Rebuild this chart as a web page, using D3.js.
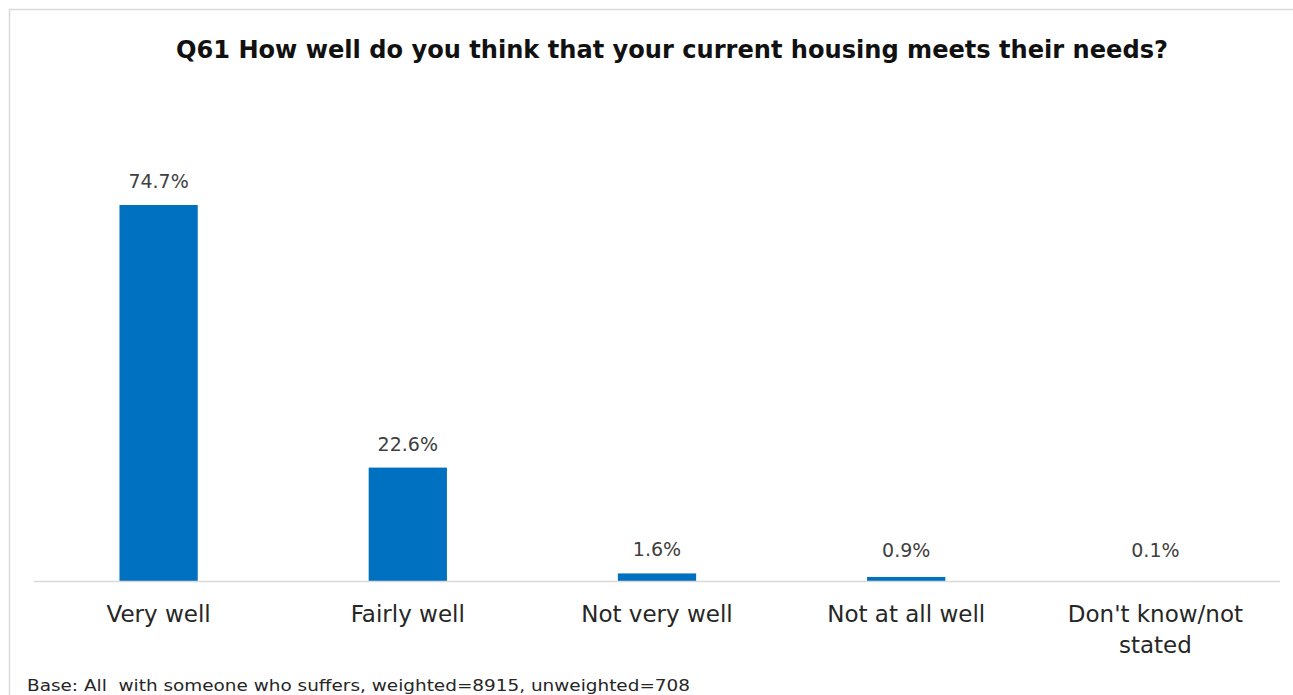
<!DOCTYPE html>
<html>
<head>
<meta charset="utf-8">
<script src="https://cdn.jsdelivr.net/npm/d3@7"></script>
<style>
  html, body { margin: 0; padding: 0; background: #ffffff; }
  svg { display: block; }
  text { white-space: pre; }
</style>
</head>
<body>
<svg id="chart" width="1293" height="695"></svg>
<script>
const categories = ["Very well", "Fairly well", "Not very well", "Not at all well", "Don't know/not stated"];
const categoryLines = [["Very well"], ["Fairly well"], ["Not very well"], ["Not at all well"], ["Don't know/not", "stated"]];
const values = [74.7, 22.6, 1.6, 0.9, 0.1];
const valueLabels = ["74.7%", "22.6%", "1.6%", "0.9%", "0.1%"];
const titleText = "Q61 How well do you think that your current housing meets their needs?";
const footerText = "Base: All  with someone who suffers, weighted=8915, unweighted=708";

const svg = d3.select("#chart");
const W = 1293, H = 695;
const font = "'DejaVu Sans', sans-serif";

// frame
svg.append("line").attr("x1", 9).attr("x2", W).attr("y1", 9.5).attr("y2", 9.5)
  .attr("stroke", "#d9d9d9").attr("stroke-width", 1.5);
svg.append("line").attr("x1", 9.5).attr("x2", 9.5).attr("y1", 9).attr("y2", H)
  .attr("stroke", "#d9d9d9").attr("stroke-width", 1.5);

// title
svg.append("text").attr("x", 672).attr("y", 58).attr("text-anchor", "middle")
  .attr("font-family", font).attr("font-weight", "bold").attr("font-size", 24)
  .attr("fill", "#111").attr("textLength", 992).attr("lengthAdjust", "spacingAndGlyphs")
  .text(titleText);

const baseline = 581.5;
const x = d3.scaleBand().domain(categories).range([34, 1280]).paddingInner(0.686).paddingOuter(0.343);
const y = d3.scaleLinear().domain([0, 74.7]).range([baseline, 205]);

svg.append("g").selectAll("rect").data(values).join("rect")
  .attr("x", (d, i) => x(categories[i]))
  .attr("width", x.bandwidth())
  .attr("y", d => y(d))
  .attr("height", d => baseline - y(d))
  .attr("fill", "#0070c0");

// axis baseline
const axis = d3.axisBottom(x).tickSize(0).tickFormat("");
const ax = svg.append("g").attr("transform", `translate(0,${baseline})`).call(axis);
ax.select(".domain").attr("stroke", "#d9d9d9").attr("stroke-width", 1.5)
  .attr("d", "M34,0H1280");

// value labels
svg.append("g").selectAll("text").data(values).join("text")
  .attr("x", (d, i) => x(categories[i]) + x.bandwidth() / 2)
  .attr("y", d => Math.min(y(d), baseline - 8) - 17)
  .attr("text-anchor", "middle")
  .attr("font-family", font).attr("font-size", 19).attr("fill", "#404040")
  .text((d, i) => valueLabels[i]);

// category labels
const cl = svg.append("g").selectAll("text").data(categoryLines).join("text")
  .attr("x", (d, i) => x(categories[i]) + x.bandwidth() / 2)
  .attr("y", 622)
  .attr("text-anchor", "middle")
  .attr("font-family", font).attr("font-size", 23).attr("fill", "#262626");
cl.selectAll("tspan").data(d => d).join("tspan")
  .attr("x", function() { return this.parentNode.getAttribute("x"); })
  .attr("dy", (d, i) => i === 0 ? 0 : 31)
  .text(d => d);

// footer
svg.append("text").attr("x", 27).attr("y", 691)
  .attr("font-family", font).attr("font-size", 16).attr("fill", "#262626")
  .attr("textLength", 663).attr("lengthAdjust", "spacingAndGlyphs")
  .text(footerText);
</script>
</body>
</html>
